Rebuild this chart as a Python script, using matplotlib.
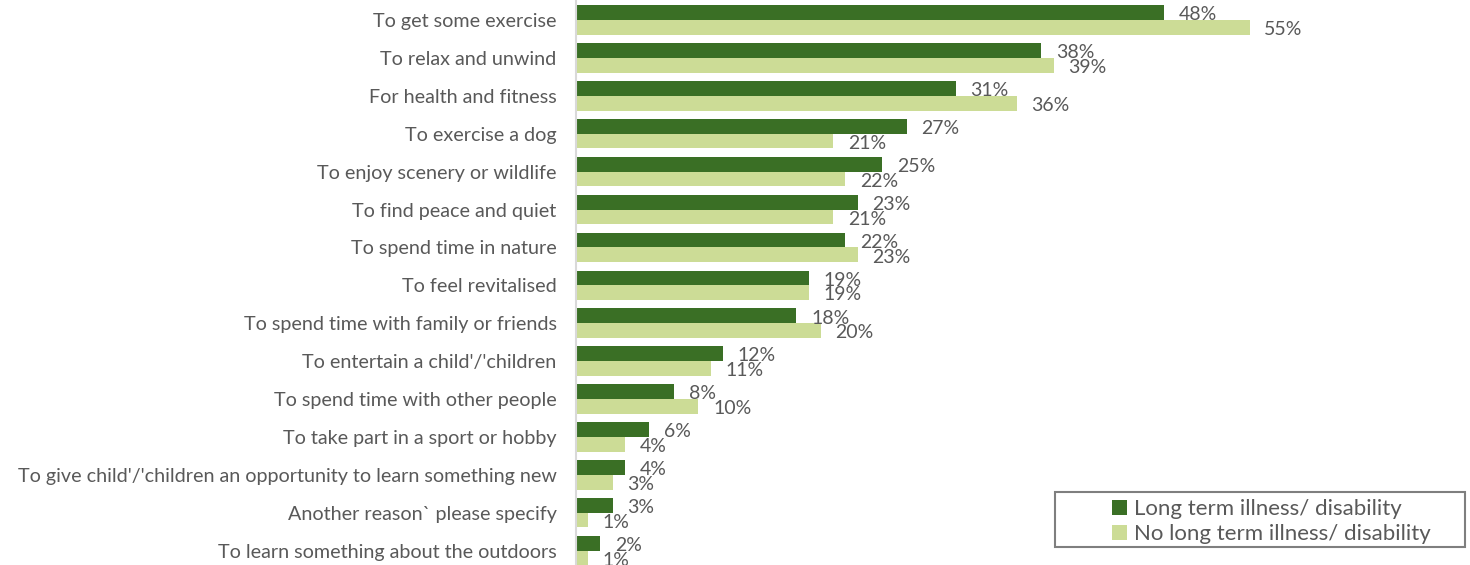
import numpy as np
import matplotlib
matplotlib.use("Agg")
import matplotlib.pyplot as plt
from matplotlib.patches import Patch, Rectangle

# Reasons for visiting the outdoors, by illness/disability status (%)
reasons = [
    "To get some exercise",
    "To relax and unwind",
    "For health and fitness",
    "To exercise a dog",
    "To enjoy scenery or wildlife",
    "To find peace and quiet",
    "To spend time in nature",
    "To feel revitalised",
    "To spend time with family or friends",
    "To entertain a child'/'children",
    "To spend time with other people",
    "To take part in a sport or hobby",
    "To give child'/'children an opportunity to learn something new",
    "Another reason` please specify",
    "To learn something about the outdoors",
]
long_term = [48, 38, 31, 27, 25, 23, 22, 19, 18, 12, 8, 6, 4, 3, 2]
no_long_term = [55, 39, 36, 21, 22, 21, 23, 19, 20, 11, 10, 4, 3, 1, 1]
series_names = ["Long term illness/ disability", "No long term illness/ disability"]

DARK = "#3A6F25"
LIGHT = "#CCDC96"
TEXT = "#595959"

plt.rcParams["font.family"] = ["Lato", "DejaVu Sans"]

W, H = 1470, 565
fig = plt.figure(figsize=(W / 100, H / 100), dpi=100)
ax = fig.add_axes([576 / W, 0, 1 - 576 / W, 1])

y = np.arange(len(reasons))
h = 0.39
ax.barh(y - h / 2, long_term, height=h, color=DARK)
ax.barh(y + h / 2, no_long_term, height=h, color=LIGHT)

for yi, v in zip(y, long_term):
    ax.text(v + 1.2, yi - h / 2 + 0.06, f"{v}%", va="center", ha="left",
            fontsize=14, color=TEXT)
for yi, v in zip(y, no_long_term):
    ax.text(v + 1.2, yi + h / 2 + 0.06, f"{v}%", va="center", ha="left",
            fontsize=14, color=TEXT)

ax.set_xlim(0, 73)
ax.set_ylim(14.38, -0.528)
ax.set_yticks(y)
ax.set_yticklabels(reasons, fontsize=14.2, color=TEXT)
ax.tick_params(axis="y", length=0, pad=14)
ax.set_xticks([])

for side in ["top", "right", "bottom"]:
    ax.spines[side].set_visible(False)
ax.spines["left"].set_color("#D9D9D9")
ax.spines["left"].set_linewidth(1.5)

# legend box drawn separately so it can be wider than its entries
fig.patches.append(Rectangle((1055 / W, 1 - 547 / H), 410 / W, 55 / H,
                             transform=fig.transFigure, facecolor="white",
                             edgecolor="#7F7F7F", linewidth=1.5, zorder=5))
handles = [Patch(facecolor=DARK), Patch(facecolor=LIGHT)]
leg = fig.legend(handles, series_names, loc="upper left",
                 bbox_to_anchor=(1108 / W, 1 - 495 / H),
                 fontsize=16, frameon=False,
                 handlelength=0.65, handleheight=0.65, handletextpad=0.3,
                 labelspacing=0.2, borderpad=0.2, borderaxespad=0)
leg.set_zorder(6)
for t in leg.get_texts():
    t.set_color(TEXT)

fig.savefig("out.png", dpi=100)
